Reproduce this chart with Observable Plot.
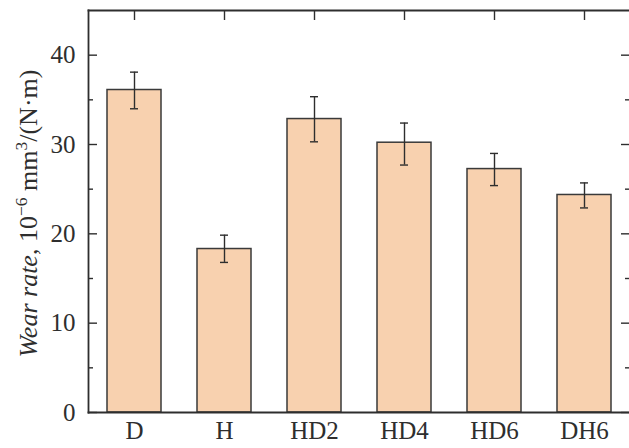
<!DOCTYPE html>
<html><head><meta charset="utf-8">
<script src="https://cdn.jsdelivr.net/npm/d3@7"></script>
<script src="https://cdn.jsdelivr.net/npm/@observablehq/plot@0.6"></script>
<style>html,body{margin:0;padding:0;background:#fff;overflow:hidden}
#chart svg, #chart svg text{font-family:'Liberation Serif', serif !important;}</style>
</head><body><div id="chart"></div>
<script>
const categories = ["D", "H", "HD2", "HD4", "HD6", "DH6"];
const wearRate = [36.1, 18.3, 32.85, 30.2, 27.25, 24.35];
const errLow = [34.0, 16.8, 30.3, 27.7, 25.4, 22.9];
const errHigh = [38.1, 19.85, 35.35, 32.4, 29.0, 25.7];
const majorTicks = [0, 10, 20, 30, 40];
const minorTicks = [5, 15, 25, 35];

const data = categories.map((c, i) => ({cat: c, v: wearRate[i], lo: errLow[i], hi: errHigh[i]}));

const ink = "#2e2e2e";
const FONT = "'Liberation Serif', serif";
const W = 629, H = 448, mL = 88, mR = 0, mT = 10, mB = 36;

const plot = Plot.plot({
  width: W, height: H,
  marginLeft: mL, marginRight: mR, marginTop: mT, marginBottom: mB,
  style: {fontFamily: FONT, fontSize: "25px", color: ink, background: "#fff"},
  x: {domain: categories, padding: 0, label: null},
  y: {domain: [0, 45], label: null},
  marks: [
    Plot.barY(data, {x: "cat", y: "v", fill: "#F8D1AF", stroke: "#3a3a3a", strokeWidth: 1.5, insetLeft: 18, insetRight: 18}),
    Plot.ruleX(data, {x: "cat", y1: "lo", y2: "hi", stroke: ink, strokeWidth: 1.4}),
    Plot.tickY(data, {x: "cat", y: "lo", stroke: ink, strokeWidth: 1.4, insetLeft: 41, insetRight: 41}),
    Plot.tickY(data, {x: "cat", y: "hi", stroke: ink, strokeWidth: 1.4, insetLeft: 41, insetRight: 41}),
    Plot.axisY(majorTicks, {anchor: "left", tickSize: -9, tickPadding: 22, label: null, strokeWidth: 1.4}),
    Plot.axisY(minorTicks, {anchor: "left", tickSize: -5, fill: "none", label: null, strokeWidth: 1.4}),
    Plot.axisY(majorTicks, {anchor: "right", tickSize: -9, fill: "none", label: null, strokeWidth: 1.4}),
    Plot.axisY(minorTicks, {anchor: "right", tickSize: -5, fill: "none", label: null, strokeWidth: 1.4}),
    Plot.axisX({anchor: "top", tickSize: -9, fill: "none", label: null, strokeWidth: 1.4}),
    Plot.axisX({anchor: "bottom", tickSize: 0, tickPadding: 9, label: null}),
    Plot.frame({anchor: "left", stroke: ink, strokeWidth: 1.8}),
    Plot.frame({anchor: "top", stroke: ink, strokeWidth: 1.8}),
    Plot.frame({anchor: "bottom", stroke: ink, strokeWidth: 1.8})
  ]
});

document.getElementById("chart").appendChild(plot);

// y-axis title with italic part and superscripts
const svg = d3.select(plot);
const cy = mT + (H - mT - mB) / 2;
const lab = svg.append("text")
  .attr("transform", `translate(37,${cy + 2.5}) rotate(-90)`)
  .attr("text-anchor", "middle")
  .attr("fill", ink)
  .attr("font-family", FONT)
  .style("font-size", "26px");
lab.append("tspan").style("font-style", "italic").text("Wear rate");
lab.append("tspan").text(", 10");
lab.append("tspan").attr("dy", -10).style("font-size", "17.5px").text("\u22126");
lab.append("tspan").attr("dy", 10).text(" mm");
lab.append("tspan").attr("dy", -10).style("font-size", "17.5px").text("3");
lab.append("tspan").attr("dy", 10).text("/(N\u00b7m)");
</script>
</body></html>
